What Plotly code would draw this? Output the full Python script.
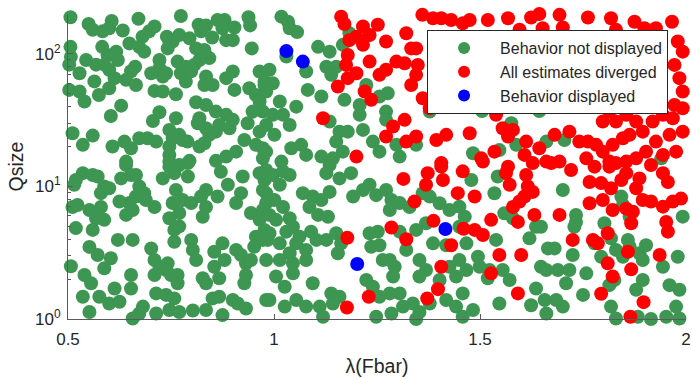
import plotly.graph_objects as go

# ---- data (x = lambda(Fbar), y = Qsize) ----
green_x = [
    0.506, 0.550, 0.560, 0.584, 0.606, 0.600, 0.633, 0.671, 0.681, 0.697,
    0.710, 0.740, 0.754, 0.774, 0.770, 0.795, 0.817, 0.835, 0.823, 0.850,
    0.863, 0.880, 0.875, 0.904, 0.900, 0.884, 0.938, 0.942, 0.946, 0.506,
    0.507, 0.503, 0.544, 0.568, 0.583, 0.596, 0.617, 0.621, 0.600, 0.588,
    0.649, 0.673, 0.685, 0.663, 0.653, 0.722, 0.742, 0.746, 0.722, 0.702,
    0.738, 0.730, 0.774, 0.766, 0.786, 0.799, 0.811, 0.831, 0.843, 0.819,
    0.807, 0.528, 0.564, 0.503, 0.528, 0.540, 0.575, 0.600, 0.613, 0.641,
    0.665, 0.710, 0.730, 0.762, 0.786, 0.835, 0.831, 0.851, 0.884, 0.900,
    0.904, 0.940, 0.965, 0.977, 0.956, 0.981, 0.965, 0.604, 0.629, 0.706,
    0.722, 0.762, 0.811, 0.835, 0.819, 0.859, 0.884, 0.867, 0.900, 0.892,
    0.859, 0.835, 0.815, 0.843, 0.831, 0.936, 0.965, 0.973, 0.948, 0.511,
    0.536, 0.560, 0.746, 0.770, 0.754, 0.790, 0.608, 0.637, 0.653, 0.673,
    0.693, 0.714, 0.746, 0.778, 0.746, 0.819, 0.884, 0.908, 0.928, 0.956,
    0.981, 0.973, 0.641, 0.746, 0.795, 0.859,
    1.018, 1.034, 1.038, 1.056, 1.030, 1.078, 1.107, 1.135, 1.127, 1.151,
    1.139, 1.167, 1.183, 0.989, 0.997, 0.977, 1.082, 1.115, 1.171, 1.208,
    1.224, 1.208, 1.276, 1.256, 1.272, 1.272, 1.297, 1.305, 1.345, 1.378,
    1.014, 0.997, 1.022, 1.038, 1.054, 0.981, 1.001, 0.973, 1.042, 1.066,
    1.078, 1.115, 1.143, 1.151, 1.159, 1.179, 1.167, 1.216, 1.240, 1.256,
    1.135, 1.018,
    1.505, 1.644, 1.576, 1.588, 1.661, 1.705, 1.483, 1.547, 1.940,
    0.536, 0.519, 0.515, 0.560, 0.572, 0.588, 0.580, 0.600, 0.641, 0.653,
    0.629, 0.665, 0.673, 0.685, 0.665, 0.649, 0.625, 0.641, 0.657, 0.710,
    0.689, 0.746, 0.770, 0.791, 0.758, 0.730, 0.791, 0.762, 0.778, 0.754,
    0.799, 0.770, 0.746, 0.758, 0.770, 0.758, 0.799, 0.803, 0.811, 0.835,
    0.823, 0.835, 0.827, 0.863, 0.888, 0.871, 0.924, 0.920, 0.908, 0.944,
    0.965, 0.973, 0.981, 0.495, 0.511, 0.523, 0.552, 0.568, 0.588, 0.580,
    0.560, 0.519, 0.621, 0.657, 0.552, 0.572, 0.604, 0.588, 0.507, 0.540,
    0.556, 0.536, 0.552, 0.576, 0.613, 0.600, 0.625, 0.702, 0.710, 0.710,
    0.722, 0.742, 0.738, 0.750, 0.766, 0.766, 0.714, 0.738, 0.758, 0.746,
    0.770, 0.803, 0.682, 0.673, 0.657, 0.714, 0.653, 0.653, 0.835, 0.827,
    0.855, 0.875, 0.880, 0.855, 0.867, 0.851, 0.867, 0.835, 0.875, 0.908,
    0.920, 0.932, 0.956, 0.952, 0.944, 0.932, 0.928, 0.900, 0.912, 0.932,
    0.981, 0.965, 0.977, 0.985,
    0.981, 0.977, 0.997, 1.022, 1.038, 1.014, 0.981, 1.001, 0.973, 0.989,
    1.022, 1.005, 1.038, 1.070, 1.094, 1.086, 1.115, 1.135, 1.107, 1.131,
    1.127, 1.159, 1.187, 1.135, 1.192, 1.216, 1.232, 1.248, 1.272, 1.285,
    1.281, 1.305, 1.329, 1.046, 1.030, 1.062, 1.090, 1.103, 1.078, 1.054,
    1.038, 1.014, 0.989, 0.973, 0.981, 1.014, 1.046, 1.078, 1.127, 1.151,
    1.155, 1.163, 1.232, 1.252, 1.236, 1.256, 1.281, 1.293, 1.289, 1.264,
    1.305, 1.321, 1.345, 1.369, 1.386, 1.418, 1.353, 1.369, 1.353, 1.402,
    1.426, 1.450, 1.467, 1.442, 1.458, 1.467, 1.450, 1.463, 1.450, 1.005,
    1.026, 1.046, 1.094, 0.989, 1.026, 1.054, 1.078, 1.111, 1.119, 1.139,
    1.159, 1.143, 1.224, 1.240, 1.256, 1.281, 1.305, 1.248, 1.285, 1.313,
    1.337, 1.345, 1.353, 1.378, 1.418, 1.442, 1.458, 1.426, 1.402, 1.378,
    1.361,
    1.479, 1.535, 1.543, 1.701, 1.559, 1.580, 1.636, 1.648, 1.620, 1.665,
    1.681, 1.733, 1.733, 1.729, 1.802, 1.818, 1.859, 1.903, 1.863, 1.843,
    1.847, 1.980, 1.992, 1.539, 1.495, 1.499, 1.555, 1.523, 1.519, 1.572,
    1.636, 1.648, 1.661, 1.689, 1.717, 1.725, 1.758, 1.709, 1.750, 1.778,
    1.794, 1.830, 1.847, 1.863, 1.887, 1.895, 1.944, 1.960, 1.984, 1.895,
    1.879, 1.814, 1.826, 1.547, 1.624, 1.657, 1.685, 1.661, 1.701, 1.818,
    1.830, 1.883, 1.915, 1.952, 1.976, 1.984, 1.483,
]
green_y = [
    189, 168, 152, 148, 177, 156, 150, 184, 135, 148,
    161, 135, 124, 193, 139, 131, 166, 164, 148, 133,
    180, 180, 156, 158, 127, 127, 189, 164, 110, 113,
    95, 83, 90, 83, 113, 98, 104, 90, 76, 83,
    120, 113, 104, 80, 74, 90, 110, 124, 78, 71.5,
    71.5, 67.5, 71.5, 87.5, 80, 74, 110, 107, 93, 90,
    83, 71.5, 62, 53.5, 52, 43.7, 49, 55, 65.6, 63.7,
    58.3, 52.6, 52, 49.6, 61.8, 67.5, 58.3, 58.3, 65.6, 73.6,
    53.5, 55, 73.6, 61.8, 49, 52, 43.7, 34, 40.7, 31.2,
    36.3, 32.7, 43.2, 41.2, 32.7, 36.7, 34.7, 29.1, 31.8, 27.5,
    25.9, 27.5, 30, 24.5, 21.2, 30, 25.9, 36.7, 36.7, 25.2,
    20.6, 24.2, 26.7, 24.5, 23.1, 21.8, 20, 21.8, 19.4, 23.1,
    23.1, 21.8, 20, 22.4, 17.3, 20, 16.8, 18.3, 22.4, 20.6,
    18.3, 16.3, 15.4, 15.4, 15.6, 15.6,
    191, 175, 156, 146, 95.5, 73.6, 113, 104, 80, 80,
    69.5, 117, 143, 76, 60, 58.3, 53.5, 47.7, 45, 41.2,
    58.3, 34.7, 50.5, 47.7, 36.7, 31.8, 20.6, 16.8, 20.6, 36.7,
    43.7, 34.7, 34.7, 29.1, 40, 29.1, 24.5, 19.4, 19.4, 20.6,
    17.3, 16.8, 16.3, 21.8, 25.9, 25.9, 18.3, 26.7, 21.8, 18.3,
    30.9, 15.4,
    37.1, 37.1, 30, 20.6, 21.8, 22.4, 17.8, 18.8, 16.3,
    12.6, 11.2, 10.3, 12.2, 11.9, 10.0, 8.9, 9.7, 14.5, 12.2,
    11.5, 12.2, 10.0, 8.9, 8.4, 7.5, 7.7, 6.1, 6.65, 7.0,
    7.9, 14.1, 14.5, 15.0, 12.6, 11.5, 11.9, 9.4, 7.9, 7.5,
    7.5, 6.3, 5.75, 4.7, 5.0, 3.83, 3.95, 3.32, 2.79, 9.4,
    8.4, 7.0, 5.9, 8.4, 10.3, 12.9, 11.9, 8.9, 7.5, 6.3,
    12.6, 9.4, 7.5, 6.3, 7.0, 7.25, 6.65, 5.75, 5.6, 7.0,
    4.7, 4.85, 3.95, 3.95, 3.5, 3.04, 2.87, 2.41, 2.5, 2.15,
    1.86, 1.47, 1.13, 1.47, 1.7, 1.31, 1.35, 3.4, 2.79, 2.15,
    2.48, 2.63, 2.34, 2.15, 2.15, 1.86, 1.56, 1.52, 1.43, 1.17,
    1.13, 1.16, 1.24, 1.10, 1.01, 1.10, 2.15, 1.7, 1.86, 2.03,
    3.22, 3.72, 2.79, 2.48, 2.03, 1.43, 1.47, 1.17, 1.07, 3.32,
    3.04, 2.63, 4.18, 3.51, 2.79, 2.15, 1.86, 1.39, 1.31, 1.2,
    1.39, 5.6, 4.7, 3.95,
    13.3, 11.2, 12.2, 13.0, 12.2, 10.3, 8.9, 7.9, 6.65, 6.1,
    7.0, 5.6, 5.75, 8.9, 8.4, 7.0, 7.9, 9.1, 6.1, 5.9,
    12.6, 11.5, 12.6, 14.5, 8.4, 9.4, 10.3, 8.6, 9.4, 7.9,
    6.65, 7.5, 7.0, 4.97, 4.56, 4.18, 4.56, 3.95, 3.32, 3.72,
    3.13, 3.72, 4.43, 3.95, 2.79, 2.79, 2.63, 2.79, 3.95, 4.43,
    3.13, 3.72, 4.43, 4.56, 3.51, 3.6, 2.79, 2.48, 2.09, 2.79,
    4.56, 3.32, 4.7, 5.27, 3.72, 3.6, 2.79, 2.34, 2.09, 1.97,
    2.48, 2.79, 2.34, 2.09, 1.56, 3.72, 4.97, 5.92, 7.04, 2.09,
    1.75, 2.21, 1.86, 1.39, 1.24, 1.39, 1.24, 1.24, 1.04, 1.56,
    1.47, 1.31, 1.97, 1.75, 1.47, 1.56, 1.56, 1.04, 1.10, 1.24,
    1.31, 1.0, 1.13, 1.31, 1.39, 1.24, 1.04, 6.65, 7.46, 8.38,
    8.88,
    11.2, 8.88, 11.9, 9.4, 6.27, 5.75, 4.97, 4.97, 4.06, 3.41,
    3.41, 6.1, 5.4, 4.97, 5.27, 4.06, 3.95, 3.6, 5.92, 8.38,
    7.25, 2.95, 5.92, 3.95, 2.95, 2.48, 2.34, 2.34, 2.03, 1.97,
    1.7, 2.48, 2.34, 2.34, 2.34, 3.04, 2.21, 1.86, 1.52, 3.72,
    2.95, 3.32, 2.95, 3.51, 3.13, 2.79, 2.48, 1.8, 1.66, 1.97,
    1.66, 1.8, 1.97, 1.31, 1.27, 1.39, 1.39, 1.10, 1.24, 1.24,
    1.01, 1.04, 1.0, 1.04, 1.24, 1.01, 1.17,
]

red_x = [
    1.163, 1.171, 1.183, 1.200, 1.216, 1.232, 1.252, 1.272, 1.216, 1.179,
    1.175, 1.200, 1.179, 1.155, 1.232, 1.256, 1.272, 1.297, 1.317, 1.220,
    1.236, 1.321, 1.333, 1.345, 1.349, 1.345, 1.333, 1.361, 1.378, 1.360,
    1.386, 1.406, 1.430, 1.458, 1.119, 1.289, 1.317, 1.272, 1.321, 1.345,
    1.394, 1.418, 1.200, 1.406,
    1.475, 1.519, 1.568, 1.624, 1.644, 1.693, 1.762, 1.818, 1.875, 1.899,
    1.966, 1.596, 1.652, 1.701, 1.830, 1.927, 1.980, 1.992, 1.972, 1.984,
    1.992, 1.972, 1.475,
    1.539, 1.555, 1.580, 1.568, 1.612, 1.644, 1.608, 1.535, 1.503,
    1.681, 1.717, 1.741, 1.762, 1.782, 1.798, 1.822, 1.847, 1.863, 1.830,
    1.798, 1.814, 1.855, 1.871, 1.879, 1.895, 1.919, 1.944, 1.968, 1.992,
    1.992, 1.960, 1.927, 1.903, 1.944, 1.976, 1.879, 1.855, 1.814, 1.758,
    1.693, 1.661,
    1.314, 1.373, 1.406, 1.410, 1.369, 1.458, 1.446, 1.341, 1.387, 1.460,
    1.430, 1.285, 1.321, 1.178, 1.406, 1.398, 1.372, 1.230, 1.177,
    1.507, 1.568, 1.563, 1.572, 1.612, 1.628, 1.673, 1.721, 1.778, 1.814,
    1.830, 1.855, 1.843, 1.887, 1.915, 1.944, 1.956, 1.487, 1.616, 1.628,
    1.608, 1.596, 1.580, 1.632, 1.592, 1.527, 1.487, 1.507, 1.693, 1.766,
    1.794, 1.818, 1.766, 1.798, 1.822, 1.855, 1.871, 1.867, 1.879, 1.895,
    1.915, 1.944, 1.968, 1.988, 1.952, 1.956, 1.810, 1.725, 1.774, 1.786,
    1.547, 1.600, 1.527, 1.859, 1.936, 1.810, 1.822, 1.867, 1.592, 1.794,
    1.897, 1.865,
]
red_y = [
    191, 168, 127, 135, 161, 139, 166, 124, 117, 98,
    82.6, 71.5, 65.6, 56.7, 87.5, 69.5, 76, 87.5, 85, 52,
    45, 143, 110, 110, 82.6, 69.5, 58.3, 46.3, 38.9, 197,
    186, 186, 180, 170, 32.7, 28.3, 31.8, 23.8, 21.8, 23.8,
    22.4, 24.5, 16.8, 15,
    180, 180, 186, 188, 200, 197, 188, 186, 175, 156,
    175, 152, 156, 158, 152, 156, 124, 104, 82.6, 65.6,
    52, 41.2, 25.2,
    34.7, 27.5, 26.7, 23.8, 21.8, 19.4, 17.3, 18.3, 16.3,
    24.5, 25.9, 21.8, 21.8, 20.6, 18.3, 20.6, 23.1, 24.5, 30.9,
    30.9, 36.7, 34.7, 41.2, 30.9, 25.9, 30.9, 34.7, 32.7, 38.9,
    25.9, 24.5, 21.8, 18.3, 17.3, 18.3, 16.3, 15.4, 15.4, 16.3,
    15.4, 15.4,
    11.4, 12.6, 14.1, 11.2, 10.3, 13.0, 8.9, 7.7, 5.5, 4.8,
    3.6, 4.9, 4.0, 4.1, 2.48, 1.68, 1.43, 1.47, 1.22,
    15.4, 14.1, 12.6, 10.3, 12.2, 15.0, 15.0, 13.3, 14.1, 14.1,
    15.0, 12.6, 11.2, 11.5, 14.5, 12.6, 10.8, 8.4, 10.0, 9.1,
    8.4, 7.7, 7.0, 6.1, 5.4, 5.6, 4.7, 4.3, 6.1, 10.8,
    10.6, 9.7, 7.46, 7.9, 6.65, 6.8, 6.45, 5.27, 9.7, 7.9,
    7.7, 7.04, 7.7, 8.1, 5.4, 4.56, 4.43, 3.95, 3.95, 3.72,
    3.04, 3.04, 2.21, 3.22, 3.04, 2.63, 2.09, 2.37, 1.56, 1.55,
    1.34, 1.04,
]

blue_x = [1.030, 1.070, 1.416, 1.202]
blue_y = [105, 87.5, 4.78, 2.6]

series_names = ["Behavior not displayed", "All estimates diverged", "Behavior displayed"]
series_colors = ["#3d9651", "#ff0000", "#0000ff"]

x_ticks = [0.5, 1, 1.5, 2]
x_tick_text = ["0.5", "1", "1.5", "2"]
y_ticks = [1, 10, 100]
y_tick_text = ["10<sup>0</sup>", "10<sup>1</sup>", "10<sup>2</sup>"]
y_minor = [2, 3, 4, 5, 6, 7, 8, 9, 20, 30, 40, 50, 60, 70, 80, 90, 200]

FONT = "Liberation Sans, Arial, Helvetica, sans-serif"
TXT = "#262626"
AX = "#5a5a5a"

fig = go.Figure()
for xs, ys, nm, col in [(green_x, green_y, series_names[0], series_colors[0]),
                        (red_x, red_y, series_names[1], series_colors[1]),
                        (blue_x, blue_y, series_names[2], series_colors[2])]:
    fig.add_trace(go.Scatter(
        x=xs, y=ys, mode="markers", name=nm, cliponaxis=False,
        marker=dict(size=14, color=col, line=dict(width=0)),
    ))

fig.update_layout(
    width=692, height=379,
    margin=dict(l=68, r=6, t=14, b=60, autoexpand=False),
    paper_bgcolor="white", plot_bgcolor="white",
    font=dict(family=FONT, color=TXT, size=17),
    showlegend=True,
    legend=dict(
        x=0.581, y=0.9475, xanchor="left", yanchor="top",
        bgcolor="white", bordercolor="#262626", borderwidth=1,
        font=dict(family=FONT, size=16, color=TXT),
        itemwidth=62, itemsizing="constant", tracegroupgap=0,
    ),
    xaxis=dict(
        range=[0.5, 2], tickvals=x_ticks, ticktext=x_tick_text,
        showgrid=False, zeroline=False, showline=True, linecolor=AX, linewidth=1,
        ticks="inside", ticklen=5, tickcolor=AX, ticklabelstandoff=5,
        tickfont=dict(size=17, color=TXT), automargin=False,
        title=dict(text="λ(Fbar)", font=dict(size=19.5, color=TXT), standoff=10),
    ),
    yaxis=dict(
        type="log", range=[0, 2.30103], tickvals=y_ticks, ticktext=y_tick_text,
        showgrid=False, zeroline=False, showline=True, linecolor=AX, linewidth=1,
        ticks="inside", ticklen=5, tickcolor=AX, ticklabelstandoff=3,
        tickfont=dict(size=17, color=TXT), automargin=False,
        minor=dict(tickvals=y_minor, ticks="inside", ticklen=3, tickcolor=AX, showgrid=False),
        title=dict(text="Qsize", font=dict(size=19.5, color=TXT), standoff=6),
    ),
)

fig.write_html("out.html")
